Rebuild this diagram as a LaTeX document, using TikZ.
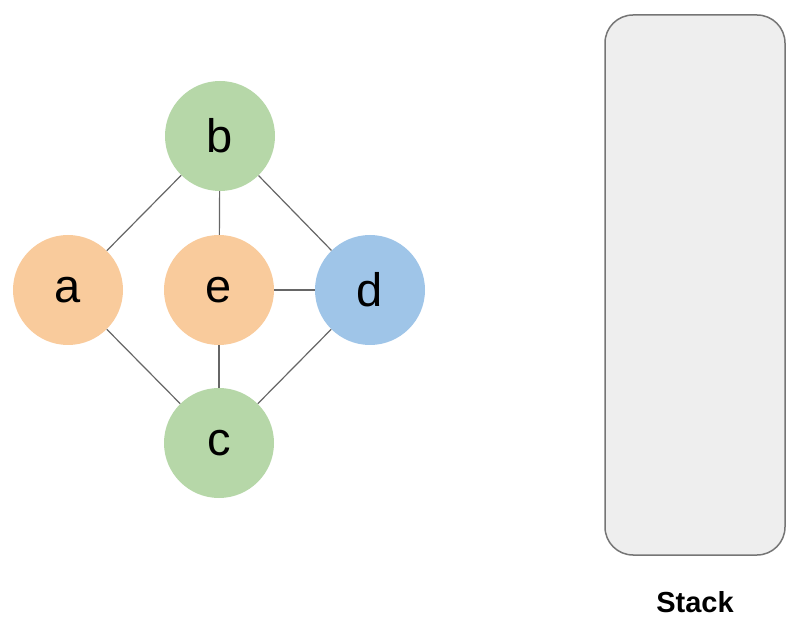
\documentclass[tikz,border=0pt]{standalone}
\usepackage{fontspec}
\setmainfont{Liberation Sans}
\definecolor{vgreen}{HTML}{B6D7A8}
\definecolor{vorange}{HTML}{F9CB9C}
\definecolor{vblue}{HTML}{9FC5E8}
\definecolor{stackfill}{HTML}{EEEEEE}
\definecolor{edgegray}{HTML}{666666}
\begin{document}
\begin{tikzpicture}[x=1pt,y=-1pt,
  vertex/.style={circle,minimum size=110pt,inner sep=0pt,
    font=\fontsize{47}{47}\selectfont},
  edge/.style={draw=edgegray,line width=1.2pt}]
  \useasboundingbox (0,0) rectangle (807,631);
  % graph
  \node[vertex,fill=vgreen]  (b) at (220,136) {b};
  \node[vertex,fill=vorange] (a) at (68,290)  {a};
  \node[vertex,fill=vorange] (e) at (219,290) {e};
  \node[vertex,fill=vblue]   (d) at (370,290) {d};
  \node[vertex,fill=vgreen]  (c) at (219,443) {c};
  \foreach \u/\v in {a/b,a/c,b/e,b/d,e/d,e/c,d/c}
    \draw[edge] (\u) -- (\v);
  % stack
  \draw[draw=edgegray!90,fill=stackfill,line width=1.5pt,rounded corners=28pt]
    (605,15) rectangle (785,555);
  \node[font=\fontsize{29}{29}\selectfont\bfseries] (stacklabel) at (695,602) {Stack};
\end{tikzpicture}
\end{document}
